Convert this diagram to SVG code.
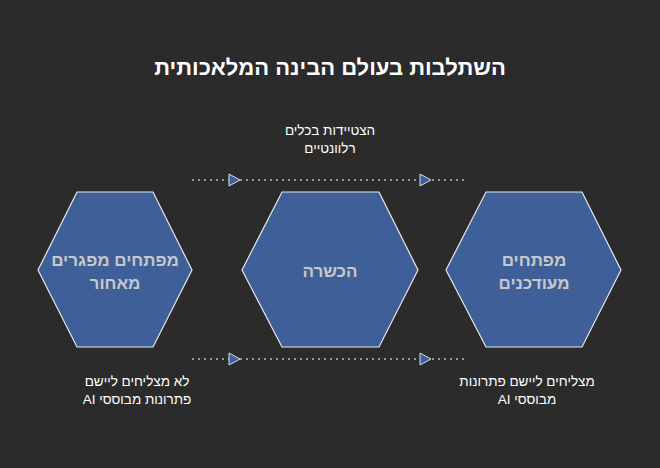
<svg xmlns="http://www.w3.org/2000/svg" width="660" height="468" viewBox="0 0 660 468">
<style>
.hex{fill:#3f5f99;stroke:#e8e8e8;stroke-width:1.2}
.ht{fill:#c8c8c8;font-family:"Liberation Sans",Arial,sans-serif;font-size:17px;font-weight:bold;text-anchor:middle}
.lt{fill:#ffffff;font-family:"Liberation Sans",Arial,sans-serif;font-size:13.5px;text-anchor:middle}
.ln{stroke:#bfbfbf;stroke-width:1.5;stroke-dasharray:2 4;fill:none}
.ah{fill:#3f5f99;stroke:#dcdcdc;stroke-width:1}
</style>
<rect width="660" height="468" fill="#2b2b2b"/>
<text x="330" y="75" direction="rtl" style="fill:#fff;font-family:'Liberation Sans',Arial,sans-serif;font-size:22px;font-weight:bold;text-anchor:middle">השתלבות בעולם הבינה המלאכותית</text>
<g id="connectors">
<line class="ln" x1="192" y1="180" x2="468" y2="180"/>
<polygon class="ah" points="229,174 240,180 229,186"/>
<polygon class="ah" points="420,174 431,180 420,186"/>
<line class="ln" x1="192" y1="359" x2="468" y2="359"/>
<polygon class="ah" points="229,353 240,359 229,365"/>
<polygon class="ah" points="420,353 431,359 420,365"/>
</g>
<g id="n1"><polygon class="hex" points="38,270 77,192 153,192 192,270 153,347 77,347"/>
<text class="ht" direction="rtl" x="115" y="266">מפתחים מפגרים</text><text class="ht" direction="rtl" x="115" y="289">מאחור</text></g>
<g id="n2"><polygon class="hex" points="242,270 282,192 379,192 418,270 379,347 282,347"/>
<text class="ht" direction="rtl" x="330" y="277">הכשרה</text></g>
<g id="n3"><polygon class="hex" points="446,270 486,192 582,192 621,270 582,347 486,347"/>
<text class="ht" direction="rtl" x="534" y="266">מפתחים</text><text class="ht" direction="rtl" x="534" y="289">מעודכנים</text></g>
<g id="labels">
<text class="lt" direction="rtl" x="330" y="135">הצטיידות בכלים</text>
<text class="lt" direction="rtl" x="330" y="153">רלוונטיים</text>
<text class="lt" direction="rtl" x="137" y="386">לא מצליחים ליישם</text>
<text class="lt" direction="rtl" x="137" y="404">פתרונות מבוססי AI</text>
<text class="lt" direction="rtl" x="527" y="386">מצליחים ליישם פתרונות</text>
<text class="lt" direction="rtl" x="527" y="404">מבוססי AI</text>
</g>
</svg>
